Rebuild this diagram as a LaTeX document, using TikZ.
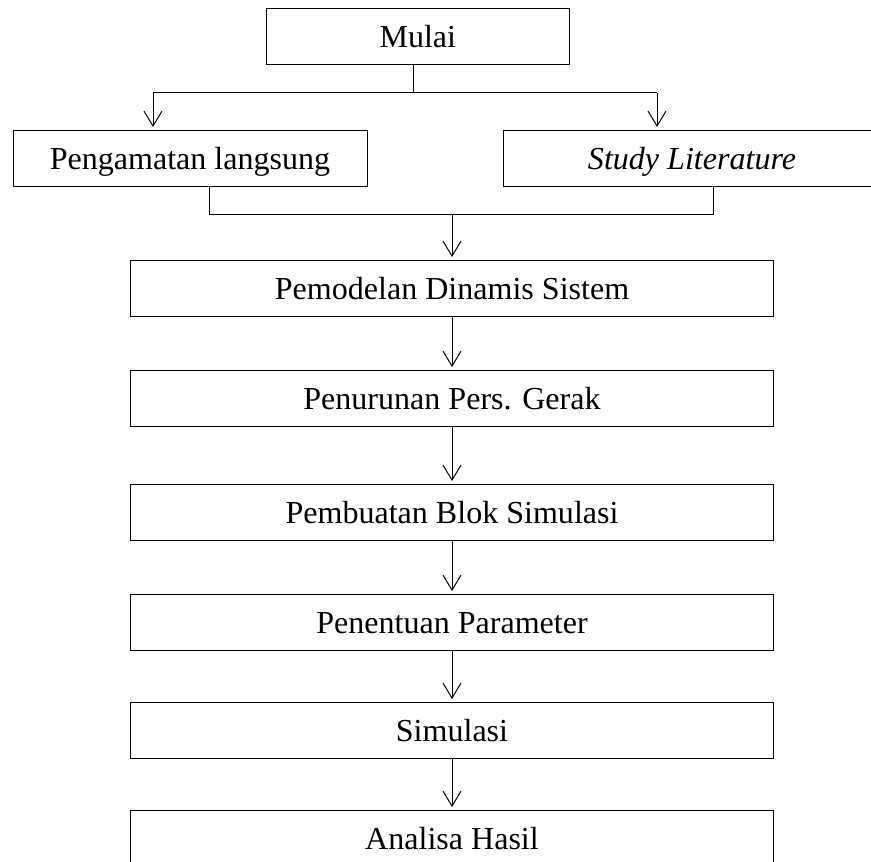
\documentclass[tikz,border=0pt]{standalone}
\usepackage{fontspec}
\setmainfont{Liberation Serif}
\usepackage{tikz}
\usetikzlibrary{arrows.meta,calc,positioning}

\tikzset{
  flowbox/.style={draw=black, line width=0.7pt, minimum height=1.39cm,
    inner sep=0pt, align=center, text height=16pt, text depth=0pt,
    font=\fontsize{22.8}{27}\selectfont},
  mainbox/.style={flowbox, minimum width=16.065cm},
  flowline/.style={line width=0.7pt},
  flowarrow/.style={flowline, -{Straight Barb[length=0.375cm,width=0.45cm,line width=0.7pt]}, shorten >=0.08cm}
}

\begin{document}
\begin{tikzpicture}
  \useasboundingbox (0,0) rectangle (21.775,-21.525);

  \node[flowbox, minimum width=7.56cm] (mulai) at (10.445,-0.905) {Mulai};
  \node[flowbox, minimum width=8.85cm] (pengamatan) at (4.75,-3.9625) {Pengamatan langsung};
  \node[flowbox, minimum width=9.45cm] (study) at (17.3,-3.9625) {\textit{Study Literature}};

  \node[mainbox] (pemodelan) at (11.3,-7.2125) {Pemodelan Dinamis Sistem};
  \node[mainbox] (penurunan) at (11.3,-9.9625) {Penurunan Pers. Gerak};
  \node[mainbox] (pembuatan) at (11.3,-12.8125) {Pembuatan Blok Simulasi};
  \node[mainbox] (penentuan) at (11.3,-15.5625) {Penentuan Parameter};
  \node[mainbox] (simulasi) at (11.3,-18.2625) {Simulasi};
  \node[mainbox] (analisa) at (11.3,-20.9625) {Analisa Hasil};

  % split after Mulai
  \coordinate (split) at (10.325,-2.3125);
  \coordinate (inL) at (3.825,-2.3125);
  \coordinate (inR) at (16.425,-2.3125);
  \draw[flowline] (mulai.south -| split) -- (split);
  \draw[flowline] (inL) -- (inR);
  \draw[flowarrow] (inL) -- (inL |- pengamatan.north);
  \draw[flowarrow] (inR) -- (inR |- study.north);

  % merge into Pemodelan
  \coordinate (outL) at (5.225,-5.3625);
  \coordinate (outR) at (17.825,-5.3625);
  \draw[flowline] (outL |- pengamatan.south) -- (outL) -- (outR) -- (outR |- study.south);
  \draw[flowarrow] (pemodelan.north |- outL) -- (pemodelan.north);

  \foreach \a/\b in {pemodelan/penurunan, penurunan/pembuatan, pembuatan/penentuan,
                     penentuan/simulasi, simulasi/analisa}
    \draw[flowarrow] (\a) -- (\b);
\end{tikzpicture}
\end{document}
